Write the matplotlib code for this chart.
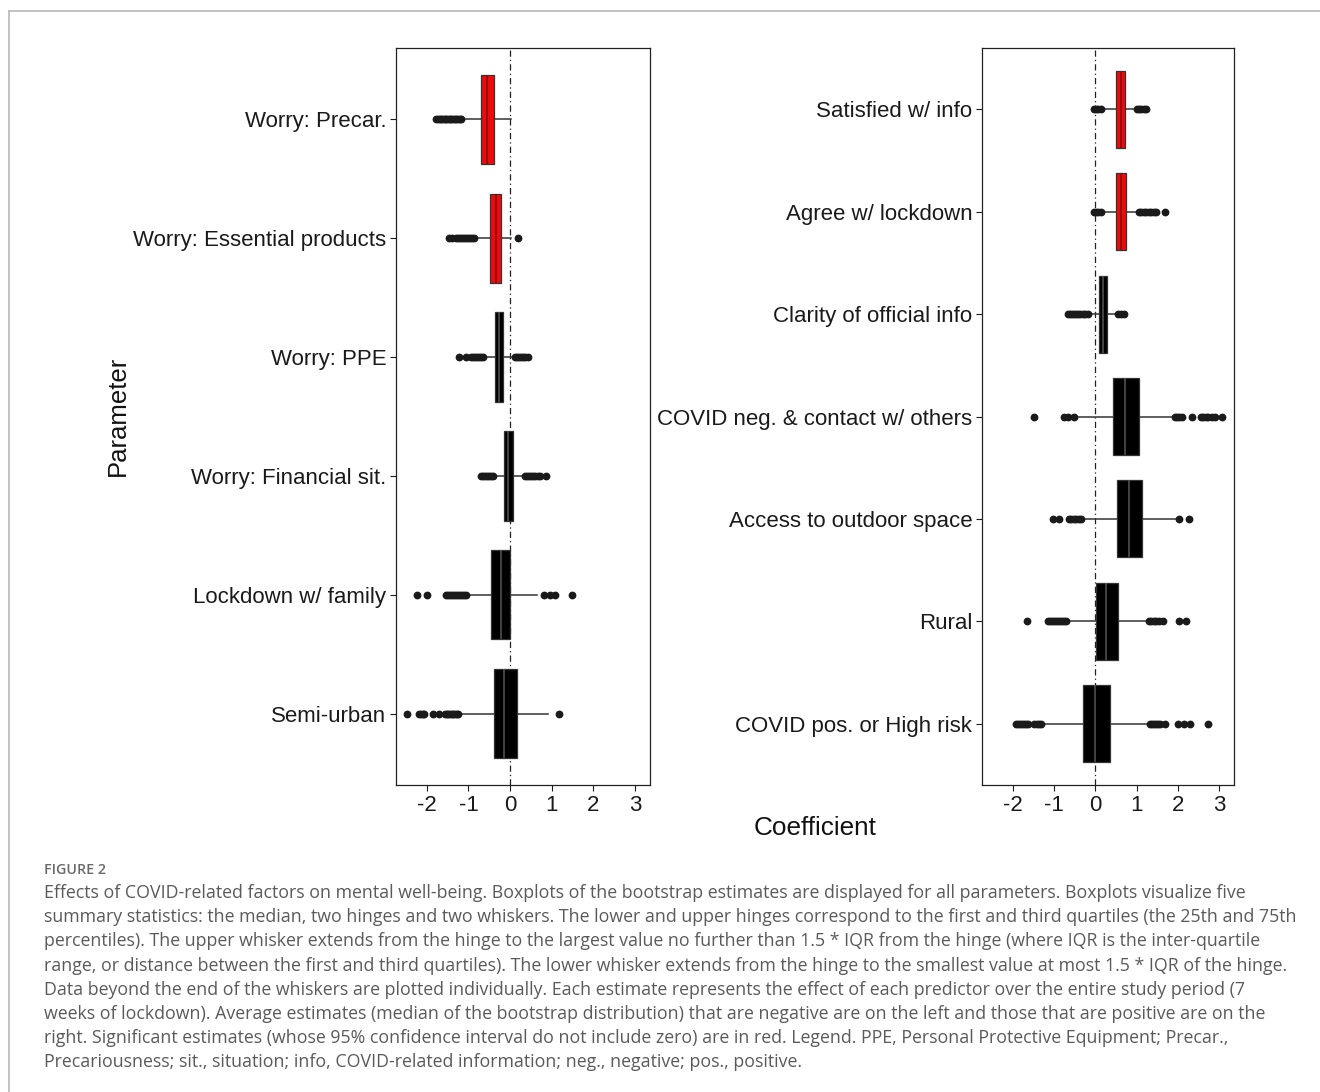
import matplotlib.pyplot as plt
from matplotlib.lines import Line2D

# --- bootstrap summaries, read per parameter (top to bottom) ---
left_labels = ['Worry: Precar.', 'Worry: Essential products', 'Worry: PPE',
               'Worry: Financial sit.', 'Lockdown w/ family', 'Semi-urban']
left_sig = [True, True, False, False, False, False]
left_q1 = [-0.70, -0.49, -0.36, -0.14, -0.45, -0.38]
left_med = [-0.56, -0.35, -0.26, -0.04, -0.23, -0.14]
left_q3 = [-0.38, -0.22, -0.17, 0.08, 0.00, 0.16]
left_lo = [-1.14, -0.82, -0.60, -0.38, -1.04, -1.23]
left_hi = [0.02, 0.02, 0.10, 0.34, 0.64, 0.90]
left_out = [
    [-1.77, -1.73, -1.69, -1.65, -1.61, -1.57, -1.53, -1.49, -1.45, -1.41,
     -1.37, -1.33, -1.29, -1.25, -1.21, -1.17],
    [-1.47, -1.39, -1.31, -1.26, -1.21, -1.16, -1.11, -1.06, -1.01, -0.96,
     -0.91, -0.86, 0.18],
    [-1.23, -1.06, -0.94, -0.89, -0.84, -0.79, -0.74, -0.69, -0.64,
     0.12, 0.17, 0.22, 0.27, 0.32, 0.37, 0.44],
    [-0.70, -0.65, -0.60, -0.55, -0.50, -0.45, -0.40,
     0.36, 0.41, 0.46, 0.51, 0.56, 0.61, 0.66, 0.71, 0.87],
    [-2.23, -1.99, -1.55, -1.50, -1.45, -1.40, -1.35, -1.30, -1.25, -1.20,
     -1.15, -1.10, -1.06, 0.82, 0.95, 1.08, 1.48],
    [-2.47, -2.18, -2.14, -2.10, -2.06, -1.86, -1.70, -1.56, -1.52, -1.48,
     -1.44, -1.40, -1.36, -1.32, -1.28, -1.24, 1.18],
]

right_labels = ['Satisfied w/ info', 'Agree w/ lockdown', 'Clarity of official info',
                'COVID neg. & contact w/ others', 'Access to outdoor space', 'Rural',
                'COVID pos. or High risk']
right_sig = [True, True, False, False, False, False, False]
right_q1 = [0.50, 0.50, 0.10, 0.43, 0.52, 0.03, -0.30]
right_med = [0.62, 0.62, 0.18, 0.71, 0.81, 0.27, -0.01]
right_q3 = [0.71, 0.74, 0.28, 1.06, 1.14, 0.55, 0.37]
right_lo = [0.18, 0.18, -0.14, -0.48, -0.30, -0.68, -1.28]
right_hi = [0.98, 1.04, 0.52, 1.92, 2.02, 1.28, 1.30]
right_out = [
    [-0.04, 0.02, 0.08, 0.14, 1.00, 1.06, 1.12, 1.18, 1.24],
    [-0.04, 0.02, 0.08, 0.14, 1.06, 1.12, 1.18, 1.24, 1.30, 1.36, 1.42, 1.48, 1.68],
    [-0.67, -0.62, -0.57, -0.52, -0.47, -0.42, -0.36, -0.30, -0.24, -0.18,
     0.56, 0.62, 0.70],
    [-1.48, -0.76, -0.66, -0.52, 1.94, 1.99, 2.04, 2.10, 2.34, 2.56, 2.62,
     2.68, 2.74, 2.82, 2.90, 3.06],
    [-1.03, -0.87, -0.64, -0.58, -0.52, -0.46, -0.40, -0.34, 2.04, 2.26],
    [-1.65, -1.15, -1.10, -1.05, -1.00, -0.95, -0.90, -0.85, -0.80, -0.75,
     -0.70, 1.30, 1.36, 1.42, 1.48, 1.55, 1.63, 2.02, 2.21],
    [-1.92, -1.87, -1.82, -1.77, -1.72, -1.67, -1.62, -1.47, -1.42, -1.37,
     -1.32, 1.33, 1.38, 1.43, 1.48, 1.53, 1.58, 1.69, 2.00, 2.16, 2.30, 2.74],
]

x_ticks = [-2, -1, 0, 1, 2, 3]

caption_lines = [
    "Effects of COVID-related factors on mental well-being. Boxplots of the bootstrap estimates are displayed for all parameters. Boxplots visualize five",
    "summary statistics: the median, two hinges and two whiskers. The lower and upper hinges correspond to the first and third quartiles (the 25th and 75th",
    "percentiles). The upper whisker extends from the hinge to the largest value no further than 1.5 * IQR from the hinge (where IQR is the inter-quartile",
    "range, or distance between the first and third quartiles). The lower whisker extends from the hinge to the smallest value at most 1.5 * IQR of the hinge.",
    "Data beyond the end of the whiskers are plotted individually. Each estimate represents the effect of each predictor over the entire study period (7",
    "weeks of lockdown). Average estimates (median of the bootstrap distribution) that are negative are on the left and those that are positive are on the",
    "right. Significant estimates (whose 95% confidence interval do not include zero) are in red. Legend. PPE, Personal Protective Equipment; Precar.,",
    "Precariousness; sit., situation; info, COVID-related information; neg., negative; pos., positive.",
]

ink = '#333333'
sig_red = '#ee0a0a'
plt.rcParams['font.family'] = ['Liberation Sans', 'DejaVu Sans']

fig = plt.figure(figsize=(13.2, 10.92), dpi=100)


def draw_panel(ax, labels, sig, q1, med, q3, lo, hi, out):
    n = len(labels)
    stats = []
    for i in range(n):
        stats.append(dict(med=med[i], q1=q1[i], q3=q3[i],
                          whislo=lo[i], whishi=hi[i], fliers=out[i]))
    pos = [n - i for i in range(n)]
    ax.axvline(0, color='#222222', lw=0.9, dashes=(5, 2.5, 1, 2.5), zorder=1)
    bp = ax.bxp(stats, positions=pos, widths=0.75, orientation='horizontal',
                patch_artist=True, showcaps=False,
                boxprops=dict(edgecolor=ink, linewidth=0.9),
                medianprops=dict(color=ink, linewidth=1.1),
                whiskerprops=dict(color=ink, linewidth=1.1),
                flierprops=dict(marker='o', markersize=4.6, markerfacecolor='#1a1a1a',
                                markeredgecolor='#1a1a1a', linestyle='none'))
    for box, m, s in zip(bp['boxes'], bp['medians'], sig):
        box.set_facecolor(sig_red if s else 'black')
        box.set_zorder(3)
        # median stroke shows as a grey line on the black boxes
        m.set_color('#7a1010' if s else '#555555')
        m.set_zorder(4)
    ax.set_yticks(pos)
    ax.set_yticklabels(labels)
    ax.set_ylim(0.4, n + 0.6)
    ax.set_xlim(-2.74, 3.36)
    ax.set_xticks(x_ticks)
    ax.set_xticklabels([str(t) for t in x_ticks])
    ax.tick_params(axis='both', labelsize=16, colors='#1a1a1a',
                   length=4, width=0.8, pad=3)
    for sp in ax.spines.values():
        sp.set_color('#222222')
        sp.set_linewidth(0.9)


ax1 = fig.add_axes([396 / 1320, 1 - 785 / 1092, 254 / 1320, 737 / 1092])
draw_panel(ax1, left_labels, left_sig, left_q1, left_med, left_q3,
           left_lo, left_hi, left_out)

ax2 = fig.add_axes([982 / 1320, 1 - 785 / 1092, 252 / 1320, 737 / 1092])
draw_panel(ax2, right_labels, right_sig, right_q1, right_med, right_q3,
           right_lo, right_hi, right_out)

fig.text(815 / 1320, 1 - 828 / 1092, 'Coefficient', ha='center', va='center',
         fontsize=18.8, color='#111111')
fig.text(118 / 1320, 1 - 416 / 1092, 'Parameter', ha='center', va='center',
         rotation=90, fontsize=18.5, color='#111111')

# light frame around the figure block
fig.add_artist(Line2D([9 / 1320, 9 / 1320], [0, 1 - 11 / 1092],
                      transform=fig.transFigure, color='#bdbdbd', lw=1.3))
fig.add_artist(Line2D([9 / 1320, 1], [1 - 11 / 1092, 1 - 11 / 1092],
                      transform=fig.transFigure, color='#bdbdbd', lw=1.3))

fig.text(44 / 1320, 1 - 870 / 1092, 'FIGURE 2', ha='left', va='center',
         fontsize=10.3, color='#6a6a6a', family=['Open Sans', 'DejaVu Sans'],
         fontweight='semibold')
for k, line in enumerate(caption_lines):
    fig.text(44 / 1320, 1 - (893 + 24.2 * k) / 1092, line, ha='left', va='center',
             fontsize=12.8, color='#5a5a5a', family=['Open Sans', 'DejaVu Sans'])

fig.savefig('out.png', dpi=100)
